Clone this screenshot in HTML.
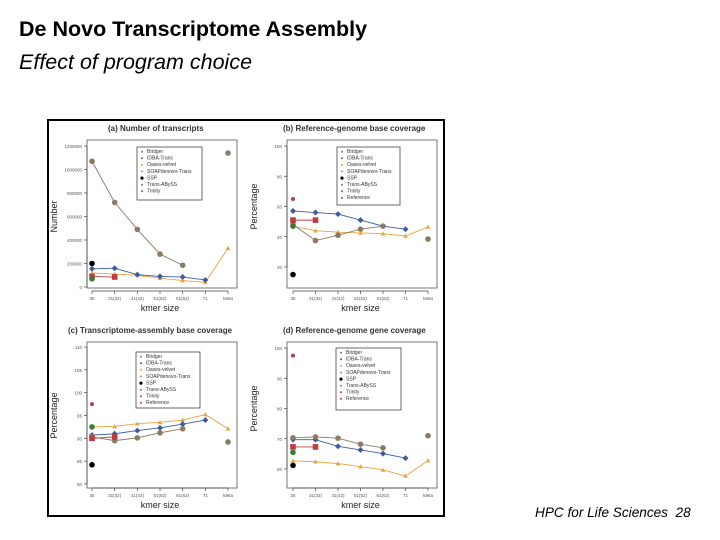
<!DOCTYPE html>
<html><head><meta charset="utf-8">
<style>
body{margin:0;width:720px;height:540px;background:#fff;position:relative;overflow:hidden;font-family:"Liberation Sans",sans-serif}
.t1{position:absolute;left:19px;top:17px;font-size:21.5px;font-weight:bold;font-family:"Liberation Sans",sans-serif}
.t2{position:absolute;left:19px;top:50px;font-size:21.5px;font-style:italic}
.ft{position:absolute;left:535px;top:505px;font-size:13.6px;font-style:italic}
svg{position:absolute;left:0;top:0}
</style></head><body>
<div class="t1">De Novo Transcriptome Assembly</div>
<div class="t2">Effect of program choice</div>
<div class="ft">HPC for Life Sciences&nbsp; 28</div>
<svg id="chart" width="720" height="540"></svg>
<script>
const categories=["35","31(32)","41(42)","51(52)","61(62)","71","Meta"];
const legendNames=["Bridger","IDBA-Trans","Oases-velvet","SOAPdenovo-Trans","SSP","Trans-ABySS","Trinity","Reference"];
// panel a
const aTicks=[0,200000,400000,600000,800000,1000000,1200000];
const aTransAbyss=[1070000,720000,490000,280000,185000,null,1140000];
const aIdba=[155000,160000,105000,90000,85000,60000,null];
const aOases=[120000,110000,100000,75000,55000,40000,330000];
const aTrinity=[90000,85000,null,null,null,null,null];
const aSsp=[200000,null,null,null,null,null,null];
const aGreen=[70000,null,null,null,null,null,null];
const aRef=[null,null,null,null,null,null,null];
// panel b
const bTicks=[20,40,60,80,100];
const bTransAbyss=[48,37.5,41,45,47,null,38.5];
const bIdba=[57,56,55,51,47,45,null];
const bOases=[47,44,43,42.5,42,40.5,46.5];
const bTrinity=[51,51,null,null,null,null,null];
const bSsp=[15,null,null,null,null,null,null];
const bGreen=[47,null,null,null,null,null,null];
const bRef=[65,null,null,null,null,null,null];
// panel c
const cTicks=[80,85,90,95,100,105,110];
const cTransAbyss=[90.3,89.5,90.1,91.2,92.1,null,89.2];
const cIdba=[90.7,91,91.7,92.3,93.1,94,null];
const cOases=[92.5,92.6,93.2,93.5,94,95.2,92.1];
const cTrinity=[90,90.3,null,null,null,null,null];
const cSsp=[84.2,null,null,null,null,null,null];
const cGreen=[92.5,null,null,null,null,null,null];
const cRef=[97.5,null,null,null,null,null,null];
// panel d
const dTicks=[60,70,80,90,100];
const dTransAbyss=[70.3,70.6,70.2,68.2,67,null,71];
const dIdba=[69.7,69.7,67.5,66.3,65.1,63.6,null];
const dOases=[62.7,62.4,61.8,60.8,59.7,57.7,62.8];
const dTrinity=[67.3,67.3,null,null,null,null,null];
const dSsp=[61.2,null,null,null,null,null,null];
const dGreen=[65.5,null,null,null,null,null,null];
const dRef=[97.5,null,null,null,null,null,null];

const NS="http://www.w3.org/2000/svg";
const svg=document.getElementById('chart');
function mk(tag,attrs,parent){const e=document.createElementNS(NS,tag);for(const k in attrs)e.setAttribute(k,attrs[k]);(parent||svg).appendChild(e);return e;}

const frame=mk('rect',{x:48,y:120,width:396,height:396,fill:'none',stroke:'#000','stroke-width':2});



const colors={ta:'#8a7b66',idba:'#3f5b9c',oases:'#e8a440',trin:'#c23a3e',ssp:'#000',green:'#3f7a3a',ref:'#a8405e'};

function panel(p){
  const g=mk('g',{});
  
  
  const x0=p.px0,x1=p.px1,ymin=p.tick[0],ymax=p.tick[p.tick.length-1];
  const X=i=>x0+(x1-x0)*i/(categories.length-1);
  const Y=v=>p.y0-(v-ymin)/(ymax-ymin)*(p.y0-p.y1);
  const t=mk('text',{x:p.tx,y:p.ty,'font-size':8,'font-weight':'bold',fill:'#333'},g);t.textContent=p.title;
  
  mk('rect',{x:p.bx,y:p.by,width:p.bw,height:p.bh,fill:'none',stroke:'#555','stroke-width':0.8},g);
  mk('line',{x1:p.ax,y1:Y(ymin),x2:p.ax,y2:Y(ymax),stroke:'#444','stroke-width':0.7},g);
  p.tick.forEach(v=>{
    mk('line',{x1:p.ax-3,y1:Y(v),x2:p.ax,y2:Y(v),stroke:'#444','stroke-width':0.7},g);
    const l=mk('text',{x:p.ax-5,y:Y(v)+2,'font-size':4.5,'text-anchor':'end',fill:'#555'},g);l.textContent=v;
    
  });
  const ay=p.bby;
  mk('line',{x1:X(0),y1:ay,x2:X(6),y2:ay,stroke:'#444','stroke-width':0.7},g);
  categories.forEach((c,i)=>{
    mk('line',{x1:X(i),y1:ay,x2:X(i),y2:ay+3,stroke:'#444','stroke-width':0.7},g);
    const l=mk('text',{x:X(i),y:ay+9,'font-size':4.5,'text-anchor':'middle',fill:'#555'},g);l.textContent=c;
    
  });
  const xl=mk('text',{x:(x0+x1)/2,y:ay+20,'font-size':9,'text-anchor':'middle',fill:'#222'},g);xl.textContent='kmer size';
  
  const cy=(Y(ymin)+Y(ymax))/2;
  const yl=mk('text',{x:p.ylx,y:cy,'font-size':9,'text-anchor':'middle',fill:'#222',transform:`rotate(-90 ${p.ylx} ${cy})`},g);yl.textContent=p.ylabel;
  
  const series=[[p.oases,colors.oases,'tri',1.8,true],[p.idba,colors.idba,'dia',2.3,false],[p.ta,colors.ta,'circ',2.8,false],[p.trin,colors.trin,'sq',2.8,false],[p.ssp,colors.ssp,'circ',2.8,false],[p.green,colors.green,'circ',2.8,false],[p.ref,colors.ref,'circ',2,false]];
  series.forEach(([arr,col,shape,r,meta])=>{
    let seg=[];
    const flush=()=>{if(seg.length>1)mk('polyline',{points:seg.join(' '),fill:'none',stroke:col,'stroke-width':0.9},g);seg=[];};
    arr.forEach((v,i)=>{
      if(v===null||(i===6&&!meta)){flush();}
      if(v!==null&&(i<6||meta))seg.push(X(i)+','+Y(v));
    });
    flush();
    arr.forEach((v,i)=>{
      if(v===null)return;
      const cx=X(i),cyy=Y(v);let m;
      if(shape==='tri')m=mk('polygon',{points:`${cx},${cyy-r*1.3} ${cx-r*1.3},${cyy+r} ${cx+r*1.3},${cyy+r}`,fill:col},g);
      else if(shape==='dia')m=mk('polygon',{points:`${cx},${cyy-r*1.3} ${cx-r*1.3},${cyy} ${cx},${cyy+r*1.3} ${cx+r*1.3},${cyy}`,fill:col},g);
      else if(shape==='sq')m=mk('rect',{x:cx-r,y:cyy-r,width:2*r,height:2*r,fill:col},g);
      else m=mk('circle',{cx:cx,cy:cyy,r:r,fill:col},g);
      
      
    });
  });
  const lg=mk('g',{},g);
  
  
  mk('rect',{x:p.lx,y:p.ly,width:p.lw,height:p.lh,fill:'#fff',stroke:'#444','stroke-width':0.8},lg);
  const lc=['#777',colors.idba,colors.oases,'#999',colors.ssp,colors.ta,colors.trin,colors.ref];
  legendNames.slice(0,p.n).forEach((nm,i)=>{
    const yy=p.ly+6+i*6.6;
    mk('circle',{cx:p.lx+5,cy:yy-1.3,r:i===4?1.6:1,fill:lc[i]},lg);
    const l=mk('text',{x:p.lx+10,y:yy,'font-size':5,fill:'#333'},lg);l.textContent=nm;
    
  });
}
panel({name:'panel-a-number-of-transcripts',title:'(a) Number of transcripts',tx:108,ty:131,px0:92,px1:228,tick:aTicks,y0:287,y1:146,ax:87,bx:87,by:140,bw:150,bh:148,bby:291,ylx:57,ylabel:'Number',ta:aTransAbyss,idba:aIdba,oases:aOases,trin:aTrinity,ssp:aSsp,green:aGreen,ref:aRef,lx:137,ly:147,lw:65,lh:53,n:7});
panel({name:'panel-b-reference-base-coverage',title:'(b) Reference-genome base coverage',tx:283,ty:131,px0:293,px1:428,tick:bTicks,y0:267,y1:146,ax:287,bx:287,by:140,bw:150,bh:148,bby:291,ylx:257,ylabel:'Percentage',ta:bTransAbyss,idba:bIdba,oases:bOases,trin:bTrinity,ssp:bSsp,green:bGreen,ref:bRef,lx:337,ly:147,lw:63,lh:58,n:8});
panel({name:'panel-c-transcriptome-base-coverage',title:'(c) Transcriptome-assembly base coverage',tx:68,ty:333,px0:92,px1:228,tick:cTicks,y0:484,y1:347,ax:87,bx:87,by:342,bw:150,bh:146,bby:488,ylx:57,ylabel:'Percentage',ta:cTransAbyss,idba:cIdba,oases:cOases,trin:cTrinity,ssp:cSsp,green:cGreen,ref:cRef,lx:136,ly:352,lw:64,lh:56,n:8});
panel({name:'panel-d-reference-gene-coverage',title:'(d) Reference-genome gene coverage',tx:283,ty:333,px0:293,px1:428,tick:dTicks,y0:469,y1:348,ax:287,bx:287,by:342,bw:150,bh:146,bby:488,ylx:257,ylabel:'Percentage',ta:dTransAbyss,idba:dIdba,oases:dOases,trin:dTrinity,ssp:dSsp,green:dGreen,ref:dRef,lx:336,ly:348,lw:65,lh:62,n:8});
</script>
</body></html>
